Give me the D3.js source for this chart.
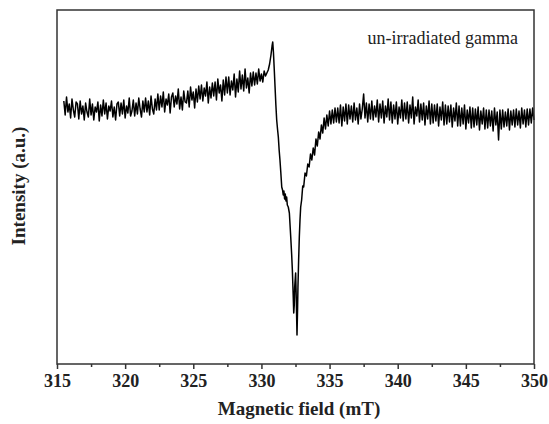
<!DOCTYPE html>
<html>
<head>
<meta charset="utf-8">
<script src="https://cdn.jsdelivr.net/npm/d3@7/dist/d3.min.js"></script>
<style>
  html, body { margin: 0; padding: 0; background: #fff; }
  svg { display: block; }
  text { font-family: "Liberation Serif", "Times New Roman", serif; fill: #222; }
</style>
</head>
<body>
<svg id="chart" width="549" height="424"></svg>
<script>
// ---------------- DATA ----------------
const xTickValues = [315, 320, 325, 330, 335, 340, 345, 350];
const xMinorTickValues = [317.5, 322.5, 327.5, 332.5, 337.5, 342.5, 347.5];
const xLabel = "Magnetic field (mT)";
const yLabel = "Intensity (a.u.)";
const legendLabel = "un-irradiated gamma";

// sweep of the spectrometer (mT)
const sweepStep = 0.1;
const lowFieldStart = 315.5;   // 315.5 ... 330.3
const lowFieldIntensity = [
  9,-5,13,-2,6,-8,11,0,-7,8,
  6,-9,9,-4,4,-10,7,-2,-7,11,
  -5,6,-10,3,-2,8,-11,5,-6,10,
  -4,7,-9,4,-1,9,-7,3,-10,6,
  8,-6,7,-4,10,-8,4,-3,12,-6,
  -1,10,-6,7,-4,12,1,-7,9,-2,
  12,-2,9,-5,14,1,-4,11,0,16,
  0,14,3,18,-2,11,5,16,-3,13,
  17,3,14,6,21,1,13,0,19,8,
  7,19,3,23,10,18,2,21,8,24,
  11,25,9,22,14,28,7,23,12,27,
  14,28,10,31,17,25,9,30,15,33,
  17,33,15,29,20,36,13,31,18,39,
  21,35,19,41,22,32,17,37,24,38,
  25,37,26,41,29,36,28,39,34
];

// resonance line (explicit field / intensity pairs)
const coreField = [
  330.4, 330.5, 330.6, 330.7, 330.78, 330.83, 330.88, 330.95, 331.0, 331.06,
  331.12, 331.18, 331.24, 331.3, 331.36, 331.42, 331.49, 331.55, 331.6, 331.65,
  331.7, 331.75, 331.8, 331.85, 331.9, 331.97, 332.05, 332.15, 332.22, 332.27,
  332.33, 332.37, 332.41, 332.44, 332.51, 332.56, 332.61, 332.65, 332.68, 332.73,
  332.78, 332.83, 332.88, 332.95, 333.03, 333.1, 333.2, 333.3, 333.4, 333.5
];
const coreIntensity = [
  37, 40, 46, 55, 64, 68, 58, 38, 23, 5,
  -10, -19, -27, -40, -50, -62, -77, -80, -85, -81,
  -89, -84, -91, -87, -95, -97, -103, -127, -145, -160,
  -185, -203, -195, -177, -163, -190, -225, -200, -177, -150,
  -127, -110, -97, -90, -76, -77, -63, -66, -54, -57
];

const highFieldStart = 333.6;  // 333.6 ... 350.0
const highFieldIntensity = [
  -44,-50,-38,-45,-29,-36,-22,-29,-15,-23,
  -8,-19,-5,-16,-1,-14,0,-13,2,-12,
  2,-13,5,-16,3,-11,6,-14,5,-9,
  4,-12,7,-10,2,-14,6,-9,1,16,
  -8,7,-12,6,-9,9,-10,4,-7,10,
  -12,6,-8,9,-13,4,-7,11,-10,8,
  -13,5,-9,8,-14,3,-8,10,-11,7,
  -9,8,-13,5,-8,13,-14,3,-6,10,
  -12,6,-10,7,-15,4,-9,9,-14,6,
  -13,5,-11,6,-16,3,-10,8,-15,5,
  -14,4,-12,5,-17,2,-11,7,-16,4,
  -16,2,-14,5,-19,0,-13,3,-18,2,
  -17,1,-15,3,-20,-1,-14,2,-19,0,
  -18,0,-16,-1,-21,2,-15,-2,-30,0,
  -19,0,-17,-2,-16,1,-20,-1,-15,0,
  -17,1,-15,-1,-18,2,-14,0,-17,1,
  -15,1,-13,2,-10
];

const xDomain = [315, 350];
const yDomain = [-254, 100];

// ---------------- BUILD POINTS ----------------
const points = [];
lowFieldIntensity.forEach((v, i) => points.push([+(lowFieldStart + i * sweepStep).toFixed(2), v]));
coreField.forEach((f, i) => points.push([f, coreIntensity[i]]));
highFieldIntensity.forEach((v, i) => points.push([+(highFieldStart + i * sweepStep).toFixed(2), v]));

// ---------------- LAYOUT ----------------
const svg = d3.select("#chart");
const plot = { left: 57, right: 534, top: 10, bottom: 364 };

const x = d3.scaleLinear().domain(xDomain).range([plot.left, plot.right]);
const y = d3.scaleLinear().domain(yDomain).range([plot.bottom, plot.top]);

// spectrum
const line = d3.line().x(d => x(d[0])).y(d => y(d[1]));
svg.append("path")
  .datum(points)
  .attr("d", line)
  .attr("fill", "none")
  .attr("stroke", "#000")
  .attr("stroke-width", 1.5)
  .attr("stroke-linejoin", "round");

// frame
svg.append("rect")
  .attr("x", plot.left).attr("y", plot.top)
  .attr("width", plot.right - plot.left).attr("height", plot.bottom - plot.top)
  .attr("fill", "none").attr("stroke", "#333").attr("stroke-width", 1.5);

// x axis major
const xAxis = d3.axisBottom(x).tickValues(xTickValues).tickSize(5).tickPadding(5).tickFormat(d3.format("d"));
const gx = svg.append("g").attr("transform", `translate(0,${plot.bottom})`).call(xAxis);
gx.select(".domain").remove();
gx.selectAll(".tick line").attr("stroke", "#333").attr("stroke-width", 1.5);
gx.selectAll(".tick text")
  .attr("font-family", "Liberation Serif, Times New Roman, serif")
  .attr("font-size", 18).attr("font-weight", "bold").attr("fill", "#222");

// x axis minor
const xMinor = d3.axisBottom(x).tickValues(xMinorTickValues).tickSize(3).tickFormat("");
const gxm = svg.append("g").attr("transform", `translate(0,${plot.bottom})`).call(xMinor);
gxm.select(".domain").remove();
gxm.selectAll(".tick line").attr("stroke", "#333").attr("stroke-width", 1.5);

// axis titles
svg.append("text")
  .attr("x", 299).attr("y", 415)
  .attr("text-anchor", "middle")
  .attr("font-size", 19).attr("font-weight", "bold")
  .text(xLabel);

svg.append("text")
  .attr("transform", "translate(25,186) rotate(-90)")
  .attr("text-anchor", "middle")
  .attr("font-size", 19).attr("font-weight", "bold")
  .text(yLabel);

// legend text
svg.append("text")
  .attr("x", 518).attr("y", 44)
  .attr("text-anchor", "end")
  .attr("font-size", 18)
  .text(legendLabel);
</script>
</body>
</html>
